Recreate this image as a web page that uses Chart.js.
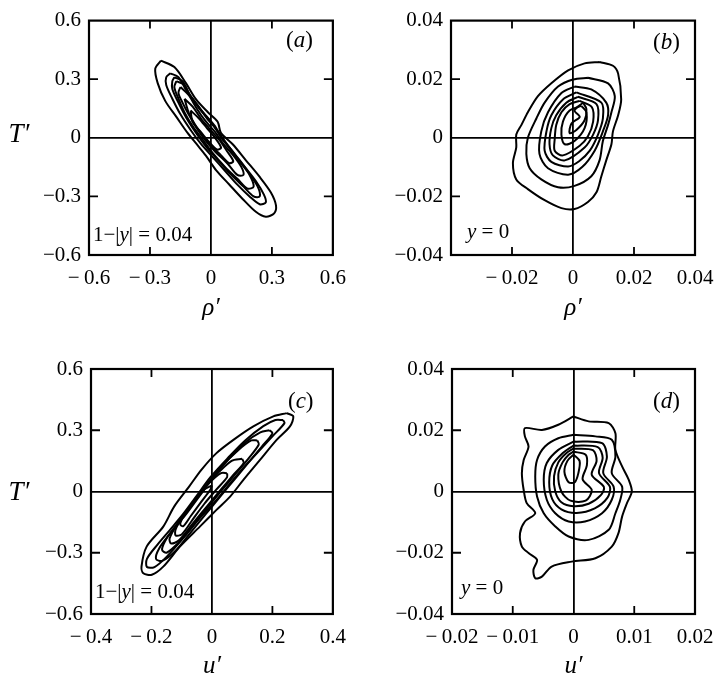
<!DOCTYPE html>
<html>
<head>
<meta charset="utf-8">
<script src="https://cdn.jsdelivr.net/npm/chart.js@4/dist/chart.umd.min.js"></script>
<style>
  body { margin: 0; background: #fff; overflow: hidden; }
  #figura { position: relative; width: 715px; height: 681px; }
  #figura canvas { position: absolute; }
</style>
</head>
<body>
<div id="figura">
  <canvas id="graficaA" width="357" height="340" style="left:0;top:0"></canvas>
  <canvas id="graficaB" width="372" height="340" style="left:357px;top:0"></canvas>
  <canvas id="graficaC" width="357" height="341" style="left:0;top:340px"></canvas>
  <canvas id="graficaD" width="372" height="341" style="left:357px;top:340px"></canvas>
</div>
<script>
// Ejes y etiquetas
var ticksRhoA = [-0.6, -0.3, 0, 0.3, 0.6];
var etiqRhoA = ['\u2212\u20090.6', '\u2212\u20090.3', '0', '0.3', '0.6'];
var ticksTA = [-0.6, -0.3, 0, 0.3, 0.6];
var etiqTA = ['\u22120.6', '\u22120.3', '0', '0.3', '0.6'];

var ticksRhoB = [-0.04, -0.02, 0, 0.02, 0.04];
var etiqRhoB = ['', '\u2212\u20090.02', '0', '0.02', '0.04'];
var ticksTB = [-0.04, -0.02, 0, 0.02, 0.04];
var etiqTB = ['\u22120.04', '\u22120.02', '0', '0.02', '0.04'];

var ticksUC = [-0.4, -0.2, 0, 0.2, 0.4];
var etiqUC = ['\u2212\u20090.4', '\u2212\u20090.2', '0', '0.2', '0.4'];
var ticksTC = [-0.6, -0.3, 0, 0.3, 0.6];
var etiqTC = ['\u22120.6', '\u22120.3', '0', '0.3', '0.6'];

var ticksUD = [-0.02, -0.01, 0, 0.01, 0.02];
var etiqUD = ['\u2212\u20090.02', '\u2212\u20090.01', '0', '0.01', '0.02'];
var ticksTD = [-0.04, -0.02, 0, 0.02, 0.04];
var etiqTD = ['\u22120.04', '\u22120.02', '0', '0.02', '0.04'];

// (a) contornos rho'-T', 1-|y| = 0.04
var contA1 = [[-0.246,0.395],[-0.180,0.362],[-0.123,0.280],[-0.074,0.198],[-0.016,0.132],[0.033,0.082],[0.049,0.025],[0.107,-0.033],[0.172,-0.115],[0.238,-0.198],[0.295,-0.280],[0.320,-0.346],[0.311,-0.387],[0.270,-0.404],[0.221,-0.379],[0.156,-0.313],[0.090,-0.239],[0.025,-0.165],[-0.025,-0.091],[-0.070,-0.033],[-0.115,0.025],[-0.170,0.107],[-0.225,0.189],[-0.262,0.280],[-0.274,0.354],[-0.246,0.395]];
var contA2 = [[-0.20,0.33],[-0.16,0.31],[-0.12,0.24],[-0.07,0.17],[-0.03,0.12],[0.02,0.06],[0.05,0.00],[0.10,-0.06],[0.16,-0.14],[0.22,-0.22],[0.26,-0.29],[0.27,-0.33],[0.24,-0.34],[0.19,-0.30],[0.13,-0.24],[0.07,-0.17],[0.01,-0.10],[-0.05,-0.03],[-0.10,0.04],[-0.15,0.12],[-0.19,0.20],[-0.22,0.27],[-0.22,0.31],[-0.20,0.33]];
var contA3 = [[-0.18,0.31],[-0.14,0.29],[-0.11,0.23],[-0.06,0.16],[-0.02,0.10],[0.03,0.04],[0.07,-0.02],[0.12,-0.09],[0.18,-0.17],[0.23,-0.25],[0.24,-0.30],[0.21,-0.30],[0.16,-0.25],[0.10,-0.19],[0.04,-0.12],[-0.02,-0.05],[-0.07,0.02],[-0.12,0.10],[-0.16,0.18],[-0.19,0.25],[-0.19,0.29],[-0.18,0.31]];
var contA4 = [[-0.17,0.29],[-0.13,0.27],[-0.10,0.21],[-0.05,0.14],[0.00,0.08],[0.04,0.02],[0.09,-0.05],[0.14,-0.12],[0.19,-0.19],[0.21,-0.25],[0.18,-0.26],[0.13,-0.21],[0.07,-0.15],[0.01,-0.08],[-0.04,-0.01],[-0.09,0.06],[-0.13,0.13],[-0.16,0.20],[-0.18,0.26],[-0.17,0.29]];
var contA5 = [[-0.15,0.26],[-0.11,0.22],[-0.07,0.15],[-0.03,0.09],[0.02,0.03],[0.06,-0.03],[0.11,-0.09],[0.15,-0.15],[0.16,-0.19],[0.13,-0.19],[0.08,-0.13],[0.02,-0.07],[-0.03,-0.01],[-0.07,0.05],[-0.11,0.12],[-0.14,0.18],[-0.16,0.23],[-0.15,0.26]];
var contA6 = [[-0.13,0.20],[-0.09,0.16],[-0.05,0.10],[-0.01,0.05],[0.04,-0.01],[0.08,-0.07],[0.11,-0.12],[0.09,-0.13],[0.05,-0.09],[0.00,-0.04],[-0.04,0.01],[-0.08,0.07],[-0.11,0.13],[-0.13,0.20]];
var contA7 = [[-0.10,0.14],[-0.06,0.10],[-0.02,0.05],[0.02,0.00],[0.05,-0.05],[0.03,-0.06],[-0.01,-0.02],[-0.05,0.03],[-0.09,0.08],[-0.10,0.14]];

// (b) contornos rho'-T', y = 0
var contB1 = [[0.0087,0.0259],[0.0131,0.0246],[0.0148,0.0219],[0.0158,0.0131],[0.0148,0.0077],[0.0131,0.0022],[0.0126,-0.0022],[0.0109,-0.0077],[0.0093,-0.0131],[0.0077,-0.0186],[0.0049,-0.0219],[0.0005,-0.0243],[-0.0038,-0.0240],[-0.0093,-0.0213],[-0.0148,-0.0175],[-0.0186,-0.0142],[-0.0197,-0.0087],[-0.0186,-0.0033],[-0.0186,0.0011],[-0.0169,0.0044],[-0.0148,0.0087],[-0.0115,0.0142],[-0.0071,0.0186],[-0.0016,0.0230],[0.0038,0.0254],[0.0087,0.0259]];
var contB2 = [[0.0049,0.0205],[0.0115,0.0186],[0.0137,0.0142],[0.0126,0.0087],[0.0115,0.0044],[0.0098,-0.0011],[0.0087,-0.0077],[0.0060,-0.0131],[0.0005,-0.0164],[-0.0049,-0.0169],[-0.0104,-0.0142],[-0.0142,-0.0104],[-0.0153,-0.0055],[-0.0148,0.0000],[-0.0120,0.0066],[-0.0093,0.0120],[-0.0049,0.0175],[0.0000,0.0199],[0.0049,0.0205]];
var contB3 = [[0.0005,0.0175],[0.0060,0.0165],[0.0109,0.0120],[0.0115,0.0077],[0.0098,0.0022],[0.0071,-0.0044],[0.0030,-0.0100],[-0.0016,-0.0126],[-0.0082,-0.0104],[-0.0110,-0.0055],[-0.0104,0.0022],[-0.0082,0.0087],[-0.0038,0.0153],[0.0005,0.0175]];
var contB4 = [[0.0011,0.0155],[0.0093,0.0120],[0.0098,0.0066],[0.0082,0.0011],[0.0055,-0.0044],[0.0020,-0.0080],[-0.0016,-0.0098],[-0.0071,-0.0082],[-0.0093,-0.0044],[-0.0087,0.0022],[-0.0071,0.0077],[-0.0033,0.0131],[0.0011,0.0155]];
var contB5 = [[0.0016,0.0140],[0.0077,0.0115],[0.0082,0.0060],[0.0066,0.0011],[0.0038,-0.0033],[-0.0027,-0.0077],[-0.0066,-0.0060],[-0.0077,-0.0022],[-0.0071,0.0033],[-0.0055,0.0077],[-0.0022,0.0120],[0.0016,0.0140]];
var contB6 = [[0.0022,0.0126],[0.0062,0.0104],[0.0066,0.0055],[0.0049,0.0005],[0.0022,-0.0027],[-0.0033,-0.0060],[-0.0060,-0.0044],[-0.0060,-0.0005],[-0.0055,0.0044],[-0.0038,0.0087],[-0.0011,0.0115],[0.0022,0.0126]];
var contB7 = [[0.0027,0.0109],[0.0044,0.0087],[0.0038,0.0033],[0.0005,-0.0011],[-0.0027,-0.0022],[-0.0038,0.0011],[-0.0033,0.0055],[-0.0011,0.0093],[0.0027,0.0109]];
var contB8 = [[0.0033,0.0120],[0.0005,0.0093],[0.0022,0.0071],[-0.0005,0.0049],[-0.0011,0.0016],[0.0011,0.0027],[0.0038,0.0060],[0.0044,0.0098],[0.0033,0.0120]];

// (c) contornos u'-T', 1-|y| = 0.04
var contC1 = [[0.247,0.384],[0.269,0.368],[0.258,0.319],[0.214,0.253],[0.159,0.155],[0.104,0.057],[0.060,-0.025],[0.015,-0.090],[-0.040,-0.172],[-0.106,-0.270],[-0.161,-0.368],[-0.199,-0.408],[-0.227,-0.400],[-0.233,-0.368],[-0.216,-0.270],[-0.161,-0.172],[-0.125,-0.074],[-0.075,0.025],[-0.035,0.106],[0.015,0.188],[0.071,0.253],[0.137,0.319],[0.203,0.368],[0.247,0.384]];
var contC2 = [[0.235,0.350],[0.240,0.335],[0.200,0.270],[0.150,0.190],[0.100,0.110],[0.055,0.030],[0.010,-0.050],[-0.040,-0.130],[-0.090,-0.220],[-0.150,-0.320],[-0.190,-0.370],[-0.215,-0.370],[-0.215,-0.330],[-0.180,-0.260],[-0.140,-0.190],[-0.095,-0.110],[-0.050,-0.020],[-0.005,0.070],[0.050,0.160],[0.110,0.250],[0.170,0.320],[0.210,0.350],[0.235,0.350]];
var contC3 = [[0.190,0.300],[0.200,0.285],[0.165,0.220],[0.120,0.140],[0.075,0.060],[0.030,-0.020],[-0.020,-0.110],[-0.070,-0.200],[-0.120,-0.290],[-0.165,-0.340],[-0.185,-0.330],[-0.175,-0.280],[-0.135,-0.200],[-0.090,-0.120],[-0.045,-0.030],[0.000,0.060],[0.050,0.150],[0.110,0.240],[0.160,0.290],[0.190,0.300]];
var contC4 = [[0.150,0.250],[0.155,0.230],[0.120,0.160],[0.080,0.090],[0.035,0.010],[-0.010,-0.070],[-0.060,-0.160],[-0.110,-0.250],[-0.150,-0.300],[-0.165,-0.285],[-0.150,-0.230],[-0.110,-0.150],[-0.065,-0.060],[-0.020,0.030],[0.030,0.120],[0.085,0.200],[0.130,0.250],[0.150,0.250]];
var contC5 = [[0.100,0.160],[0.105,0.140],[0.070,0.080],[0.030,0.010],[-0.015,-0.070],[-0.065,-0.160],[-0.110,-0.240],[-0.135,-0.255],[-0.140,-0.230],[-0.115,-0.160],[-0.075,-0.080],[-0.030,0.010],[0.020,0.090],[0.065,0.150],[0.100,0.160]];
var contC6 = [[0.050,0.090],[0.050,0.070],[0.015,0.010],[-0.025,-0.060],[-0.065,-0.140],[-0.100,-0.210],[-0.120,-0.215],[-0.120,-0.185],[-0.095,-0.120],[-0.055,-0.040],[-0.010,0.040],[0.030,0.090],[0.050,0.090]];
var contC7 = [[0.000,0.030],[-0.005,0.010],[-0.035,-0.050],[-0.070,-0.120],[-0.095,-0.170],[-0.105,-0.160],[-0.090,-0.110],[-0.060,-0.050],[-0.025,0.010],[0.000,0.030]];

// (d) contornos u'-T', y = 0
var contD1 = [[0.0000,0.0245],[0.0025,0.0229],[0.0058,0.0223],[0.0069,0.0190],[0.0069,0.0136],[0.0080,0.0082],[0.0091,0.0038],[0.0096,0.0000],[0.0088,-0.0038],[0.0080,-0.0082],[0.0074,-0.0136],[0.0063,-0.0180],[0.0036,-0.0218],[-0.0003,-0.0229],[-0.0036,-0.0245],[-0.0052,-0.0278],[-0.0063,-0.0283],[-0.0066,-0.0256],[-0.0060,-0.0223],[-0.0074,-0.0201],[-0.0085,-0.0180],[-0.0088,-0.0136],[-0.0080,-0.0098],[-0.0063,-0.0071],[-0.0077,-0.0038],[-0.0082,0.0005],[-0.0085,0.0060],[-0.0082,0.0103],[-0.0074,0.0147],[-0.0080,0.0180],[-0.0080,0.0207],[-0.0052,0.0201],[-0.0025,0.0218],[0.0000,0.0245]];
var contD2 = [[0.0000,0.0185],[0.0036,0.0180],[0.0063,0.0169],[0.0069,0.0114],[0.0063,0.0060],[0.0080,0.0016],[0.0077,-0.0027],[0.0069,-0.0071],[0.0058,-0.0125],[0.0025,-0.0158],[-0.0008,-0.0147],[-0.0030,-0.0114],[-0.0049,-0.0071],[-0.0060,-0.0016],[-0.0063,0.0049],[-0.0060,0.0103],[-0.0047,0.0147],[-0.0025,0.0174],[0.0000,0.0185]];
var contD3 = [[0.0000,0.0163],[0.0047,0.0158],[0.0055,0.0114],[0.0049,0.0060],[0.0066,0.0016],[0.0063,-0.0027],[0.0047,-0.0071],[0.0019,-0.0098],[-0.0008,-0.0098],[-0.0030,-0.0071],[-0.0044,-0.0027],[-0.0049,0.0038],[-0.0044,0.0093],[-0.0025,0.0136],[0.0000,0.0163]];
var contD4 = [[0.0000,0.0150],[0.0040,0.0145],[0.0048,0.0110],[0.0042,0.0060],[0.0060,0.0015],[0.0056,-0.0020],[0.0035,-0.0055],[0.0005,-0.0070],[-0.0020,-0.0058],[-0.0035,-0.0025],[-0.0040,0.0030],[-0.0035,0.0085],[-0.0018,0.0125],[0.0000,0.0150]];
var contD5 = [[0.0000,0.0140],[0.0032,0.0135],[0.0038,0.0100],[0.0030,0.0055],[0.0050,0.0015],[0.0045,-0.0012],[0.0025,-0.0040],[0.0000,-0.0048],[-0.0020,-0.0035],[-0.0030,0.0000],[-0.0032,0.0050],[-0.0025,0.0095],[-0.0012,0.0125],[0.0000,0.0140]];
var contD6 = [[0.0000,0.0130],[0.0020,0.0120],[0.0022,0.0085],[0.0015,0.0040],[0.0030,0.0005],[0.0020,-0.0030],[-0.0005,-0.0030],[-0.0020,0.0000],[-0.0025,0.0055],[-0.0018,0.0095],[-0.0008,0.0120],[0.0000,0.0130]];
var contD7 = [[0.0000,0.0120],[0.0010,0.0100],[0.0008,0.0060],[0.0002,0.0030],[-0.0008,0.0030],[-0.0015,0.0065],[-0.0010,0.0100],[0.0000,0.0120]];

var SERIF = '"Liberation Serif", "Times New Roman", serif';

// dibuja texto con partes en cursiva
function escribir(ctx, t) {
    var x = t.x;
    if (t.centro) {
        var w = 0;
        t.partes.forEach(function (p) {
            ctx.font = (p[1] ? 'italic ' : '') + t.size + 'px ' + SERIF;
            w += ctx.measureText(p[0]).width;
        });
        x -= w / 2;
    }
    t.partes.forEach(function (p) {
        ctx.font = (p[1] ? 'italic ' : '') + t.size + 'px ' + SERIF;
        ctx.fillText(p[0], x, t.y);
        x += ctx.measureText(p[0]).width;
    });
}

// marco, marcas hacia dentro y rotulos de cada panel
var marcoPanel = {
    id: 'marcoPanel',
    afterDraw: function (chart, args, opts) {
        var ctx = chart.ctx, a = chart.chartArea;
        var sx = chart.scales.x, sy = chart.scales.y;
        ctx.save();
        ctx.strokeStyle = '#000';
        ctx.lineWidth = 2.2;
        ctx.strokeRect(a.left, a.top, a.right - a.left, a.bottom - a.top);
        ctx.lineWidth = 1.8;
        ctx.beginPath();
        sx.ticks.forEach(function (t) {
            if (t.value === 0 || t.value === sx.min || t.value === sx.max) return;
            var px = sx.getPixelForValue(t.value);
            ctx.moveTo(px, a.top); ctx.lineTo(px, a.top + 8);
            ctx.moveTo(px, a.bottom); ctx.lineTo(px, a.bottom - 8);
        });
        sy.ticks.forEach(function (t) {
            if (t.value === 0 || t.value === sy.min || t.value === sy.max) return;
            var py = sy.getPixelForValue(t.value);
            ctx.moveTo(a.left, py); ctx.lineTo(a.left + 9, py);
            ctx.moveTo(a.right, py); ctx.lineTo(a.right - 9, py);
        });
        ctx.stroke();
        ctx.fillStyle = '#000';
        ctx.textBaseline = 'middle';
        (opts.textos || []).forEach(function (t) { escribir(ctx, t); });
        ctx.restore();
    }
};

function crearPanel(id, contornos, xTicks, xEtiq, yTicks, yEtiq, xTitulo, caja, textos) {
    var datasets = contornos.map(function (c) {
        return {
            data: c.map(function (p) { return { x: p[0], y: p[1] }; }),
            showLine: true,
            tension: 0.3,
            borderColor: '#000',
            borderWidth: 2,
            pointRadius: 0,
            fill: false
        };
    });

    var cruz = function (c) { return c.tick && c.tick.value === 0 ? '#000' : 'rgba(0,0,0,0)'; };

    var ctx = document.getElementById(id).getContext('2d');
    new Chart(ctx, {
        type: 'scatter',
        data: { datasets: datasets },
        plugins: [marcoPanel],
        options: {
            responsive: false,
            animation: false,
            layout: { padding: caja.padding },
            plugins: {
                legend: { display: false },
                tooltip: { enabled: false },
                marcoPanel: { textos: textos }
            },
            scales: {
                x: {
                    type: 'linear',
                    min: xTicks[0],
                    max: xTicks[xTicks.length - 1],
                    afterBuildTicks: function (s) { s.ticks = xTicks.map(function (v) { return { value: v }; }); },
                    afterFit: function (s) { s.height = caja.xH; },
                    ticks: {
                        callback: function (v, i) { return xEtiq[i]; },
                        color: '#000',
                        font: { family: SERIF, size: 21 },
                        padding: 11,
                        maxRotation: 0,
                        autoSkip: false
                    },
                    grid: { color: cruz, lineWidth: 1.8, drawTicks: false },
                    border: { display: false },
                    title: {
                        display: true,
                        text: xTitulo,
                        color: '#000',
                        font: { family: SERIF, size: 25, style: 'italic' },
                        padding: 0
                    }
                },
                y: {
                    type: 'linear',
                    min: yTicks[0],
                    max: yTicks[yTicks.length - 1],
                    afterBuildTicks: function (s) { s.ticks = yTicks.map(function (v) { return { value: v }; }); },
                    afterFit: function (s) { s.width = caja.yW; },
                    ticks: {
                        callback: function (v, i) { return yEtiq[i]; },
                        color: '#000',
                        font: { family: SERIF, size: 21 },
                        padding: 8,
                        autoSkip: false
                    },
                    grid: { color: cruz, lineWidth: 1.8, drawTicks: false },
                    border: { display: false }
                }
            }
        }
    });
}

function nota(letra, x, y) {
    return { x: x, y: y, size: 23, partes: [['(', false], [letra, true], [')', false]] };
}
var tituloT = function (y) { return { x: 19, y: y, size: 27, centro: true, partes: [['T\u2032', true]] }; };
var notaPared = function (x, y) { return { x: x, y: y, size: 21, partes: [['1\u2212|', false], ['y', true], ['| = 0.04', false]] }; };
var notaCentro = function (x, y) { return { x: x, y: y, size: 21, partes: [['y', true], [' = 0', false]] }; };

crearPanel('graficaA', [contA1, contA2, contA3, contA4, contA5, contA6, contA7],
    ticksRhoA, etiqRhoA, ticksTA, etiqTA, '\u03C1\u2032',
    { padding: { left: 19, top: 12, right: 24, bottom: 17 }, yW: 70, xH: 68 },
    [nota('a', 286, 41), tituloT(135), notaPared(93, 235)]);

crearPanel('graficaB', [contB1, contB2, contB3, contB4, contB5, contB6, contB7, contB8],
    ticksRhoB, etiqRhoB, ticksTB, etiqTB, '\u03C1\u2032',
    { padding: { left: 24, top: 11, right: 34, bottom: 17 }, yW: 70, xH: 68 },
    [nota('b', 296, 43), notaCentro(110, 232)]);

crearPanel('graficaC', [contC1, contC2, contC3, contC4, contC5, contC6, contC7],
    ticksUC, etiqUC, ticksTC, etiqTC, 'u\u2032',
    { padding: { left: 21, top: 29, right: 24, bottom: 0 }, yW: 70, xH: 67 },
    [nota('c', 288, 62), tituloT(153), notaPared(95, 252)]);

crearPanel('graficaD', [contD1, contD2, contD3, contD4, contD5, contD6, contD7],
    ticksUD, etiqUD, ticksTD, etiqTD, 'u\u2032',
    { padding: { left: 25, top: 29, right: 34, bottom: 0 }, yW: 70, xH: 67 },
    [nota('d', 296, 62), notaCentro(104, 248)]);
</script>
</body>
</html>
